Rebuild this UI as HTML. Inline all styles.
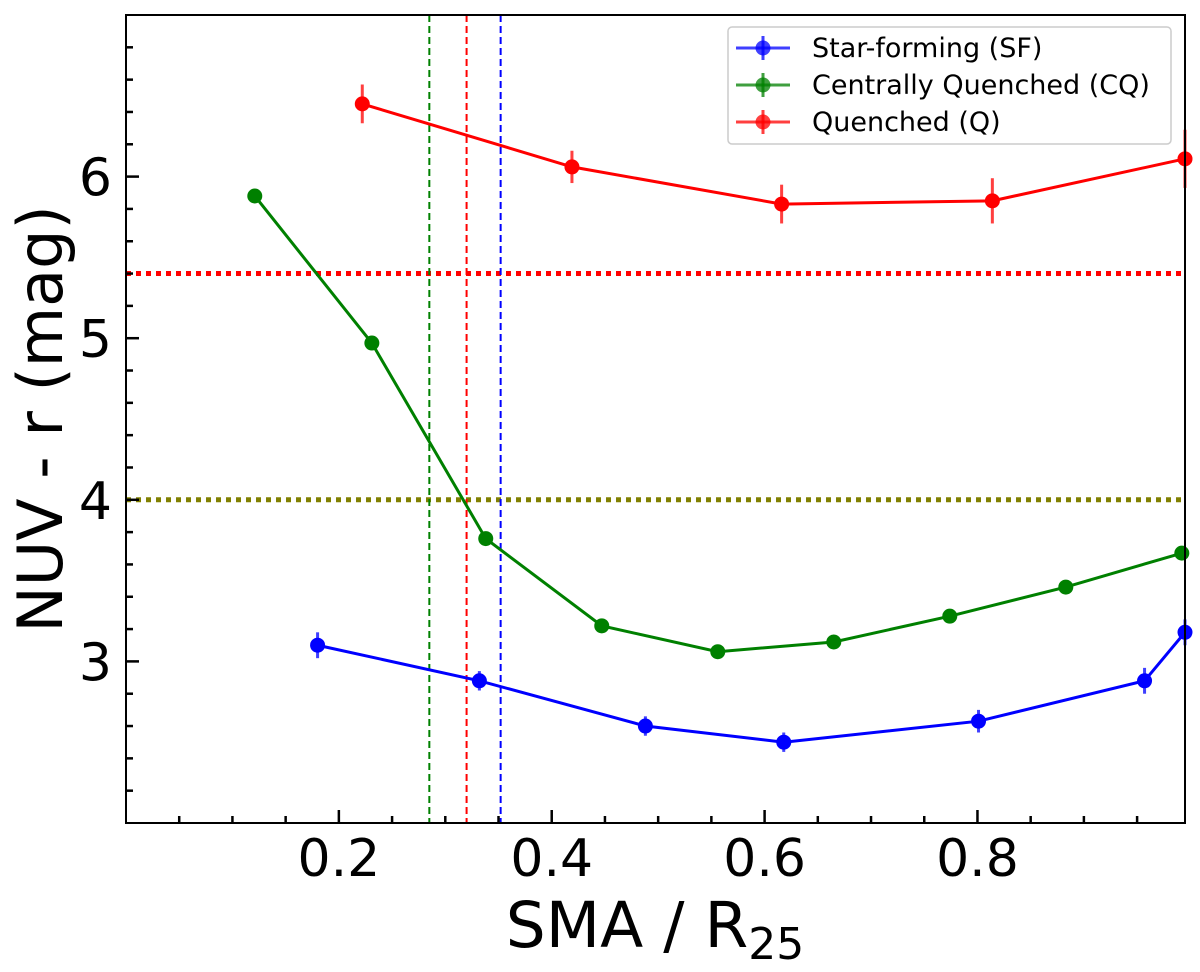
<!DOCTYPE html>
<html><head><meta charset="utf-8"><style>
body{margin:0;background:#fff}
svg text{font-family:"DejaVu Sans","Liberation Sans",sans-serif}
</style></head><body>
<svg id="chart" width="1200" height="967" viewBox="0 0 1200 967" xmlns="http://www.w3.org/2000/svg">
<g id="grid"></g>
<g id="marks"></g>
<g id="axes"></g>
<g id="legend"></g>
</svg>
<script>
const sfX=[0.180,0.332,0.488,0.618,0.801,0.957,0.995];
const sfY=[3.10,2.88,2.60,2.50,2.63,2.88,3.18];
const sfE=[0.08,0.06,0.06,0.06,0.07,0.08,0.08];
const cqX=[0.121,0.231,0.338,0.447,0.556,0.665,0.774,0.883,0.992];
const cqY=[5.88,4.97,3.76,3.22,3.06,3.12,3.28,3.46,3.67];
const cqE=[0.02,0.02,0.02,0.02,0.02,0.02,0.02,0.02,0.02];
const qX=[0.222,0.419,0.616,0.814,0.995];
const qY=[6.45,6.06,5.83,5.85,6.11];
const qE=[0.12,0.10,0.12,0.14,0.18];
const hLines=[5.4,4.0];
const vLines=[0.285,0.320,0.352];
const xTicks=[0.2,0.4,0.6,0.8];
const yTicks=[3,4,5,6];
const L=126,R=1185,T=15,B=823,XMIN=0,XMAX=0.995,YMIN=2,YMAX=7;
const sx=v=>L+(v-XMIN)/(XMAX-XMIN)*(R-L);
const sy=v=>B-(v-YMIN)/(YMAX-YMIN)*(B-T);
const NS="http://www.w3.org/2000/svg";
function mk(p,tag,a){const e=document.createElementNS(NS,tag);for(const k in a)e.setAttribute(k,a[k]);p.appendChild(e);return e;}
const grid=document.getElementById('grid'),marks=document.getElementById('marks'),axes=document.getElementById('axes'),lg=document.getElementById('legend');
const hc=['#ff0000','#808000'];
hLines.forEach((v,i)=>{const l=mk(grid,'line',{x1:L,x2:R,y1:sy(v),y2:sy(v),stroke:hc[i],'stroke-width':5,'stroke-dasharray':'5 5'});

});
const vc=['#008000','#ff0000','#0000ff'];
vLines.forEach((v,i)=>{const l=mk(grid,'line',{x1:sx(v),x2:sx(v),y1:T,y2:B,stroke:vc[i],'stroke-width':2,'stroke-dasharray':'7 4'});

});
function series(xs,ys,es,col,name){
const g=mk(marks,'g',{});


mk(g,'polyline',{points:xs.map((x,i)=>sx(x)+','+sy(ys[i])).join(' '),fill:'none',stroke:col,'stroke-width':3});
xs.forEach((x,i)=>{
mk(g,'line',{x1:sx(x),x2:sx(x),y1:sy(ys[i]+es[i]),y2:sy(ys[i]-es[i]),stroke:col,'stroke-width':3,opacity:0.75});
const c=mk(g,'circle',{cx:sx(x),cy:sy(ys[i]),r:7.5,fill:col});

});}
series(sfX,sfY,sfE,'#0000ff','sf');
series(cqX,cqY,cqE,'#008000','cq');
series(qX,qY,qE,'#ff0000','q');
const frame=mk(axes,'rect',{x:L,y:T,width:R-L,height:B-T,fill:'none',stroke:'#000','stroke-width':2});


for(let v=0.05;v<XMAX;v+=0.05){const maj=xTicks.some(t=>Math.abs(t-v)<1e-6);
mk(axes,'line',{x1:sx(v),x2:sx(v),y1:B,y2:B-(maj?13:7),stroke:'#000','stroke-width':2.5});}
for(let v=2.2;v<YMAX;v+=0.2){const maj=yTicks.some(t=>Math.abs(t-v)<1e-6);
mk(axes,'line',{x1:L,x2:L+(maj?13:7),y1:sy(v),y2:sy(v),stroke:'#000','stroke-width':2.5});}
xTicks.forEach(v=>{const t=mk(axes,'text',{x:sx(v),y:876,'font-size':52,'text-anchor':'middle'});t.textContent=v.toFixed(1);

});
yTicks.forEach(v=>{const t=mk(axes,'text',{x:112,y:sy(v)+19,'font-size':52,'text-anchor':'end'});t.textContent=v;

});
const xt=mk(axes,'text',{x:655,y:947,'font-size':63,'text-anchor':'middle'});
xt.innerHTML='SMA / R<tspan font-size="44" dy="12">25</tspan>';


const yt=mk(axes,'text',{x:0,y:0,'font-size':62,'text-anchor':'middle',transform:'translate(62,419) rotate(-90)'});
yt.textContent='NUV - r (mag)';


const box=mk(lg,'rect',{x:728,y:27,width:443,height:117,fill:'#fff',stroke:'#ccc','stroke-width':1.5,rx:4});


const ln=['Star-forming (SF)','Centrally Quenched (CQ)','Quenched (Q)'],lc=['#0000ff','#008000','#ff0000'];
ln.forEach((n,i)=>{const y=48+i*37;const g=mk(lg,'g',{});


mk(g,'line',{x1:736,x2:790,y1:y,y2:y,stroke:lc[i],'stroke-width':3,opacity:0.75});
mk(g,'line',{x1:763,x2:763,y1:y-12,y2:y+12,stroke:lc[i],'stroke-width':3,opacity:0.75});
mk(g,'circle',{cx:763,cy:y,r:7.5,fill:lc[i],opacity:0.75});
const t=mk(g,'text',{x:812,y:y+9,'font-size':27});t.textContent=n;});
</script>
</body></html>
